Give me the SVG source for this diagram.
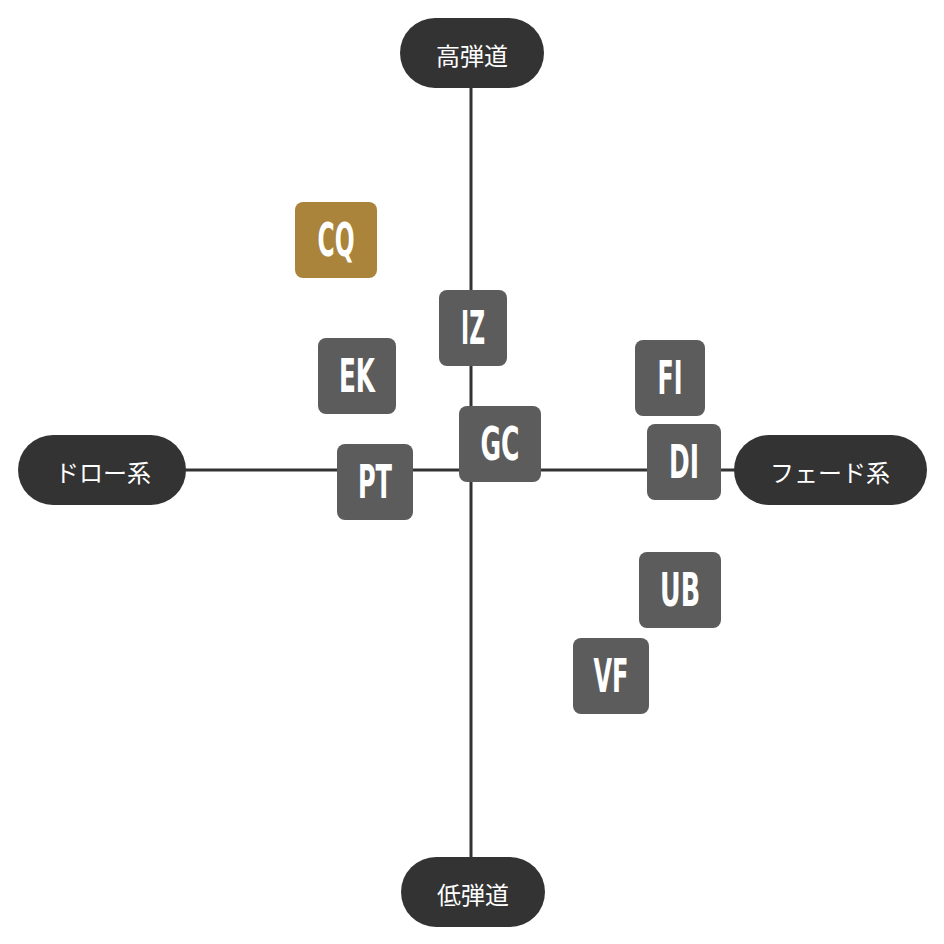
<svg xmlns="http://www.w3.org/2000/svg" width="944" height="944" viewBox="0 0 944 944">
<style>
.axis{stroke:#333333;stroke-width:3;fill:none}
.pill{fill:#333333}
.pl{fill:#ffffff;font-family:"Noto Sans CJK JP","Noto Sans",sans-serif;font-size:24px;text-anchor:middle;dominant-baseline:central}
.box{fill:#5c5c5c}
.gold{fill:#a9843a}
.lb{fill:#ffffff;font-family:"Liberation Sans Narrow","DejaVu Sans Condensed","Liberation Sans",sans-serif;font-weight:bold;font-size:46px;text-anchor:middle}
</style>
<rect width="944" height="944" fill="#ffffff"/>
<g id="connectors">
<line class="axis" x1="471" y1="86" x2="471" y2="860"/>
<line class="axis" x1="184" y1="470" x2="736" y2="470"/>
</g>
<g id="high"><rect class="pill" x="400" y="18" width="144" height="70" rx="35"/><text class="pl" x="472" y="54">高弾道</text></g>
<g id="low"><rect class="pill" x="401" y="857" width="144" height="70" rx="35"/><text class="pl" x="473" y="893">低弾道</text></g>
<g id="draw"><rect class="pill" x="18" y="435" width="168" height="70" rx="35"/><text class="pl" x="103" y="471">ドロー系</text></g>
<g id="fade"><rect class="pill" x="734" y="435" width="193" height="70" rx="35"/><text class="pl" x="830" y="471">フェード系</text></g>
<g id="CQ"><rect class="gold" x="295" y="202" width="82" height="76" rx="8"/><text class="lb" x="336" y="256" textLength="37" lengthAdjust="spacingAndGlyphs">CQ</text></g>
<g id="IZ"><rect class="box" x="439" y="290" width="68" height="76" rx="8"/><text class="lb" x="473" y="344" textLength="24" lengthAdjust="spacingAndGlyphs">IZ</text></g>
<g id="EK"><rect class="box" x="318" y="338" width="78" height="76" rx="8"/><text class="lb" x="357" y="392" textLength="36" lengthAdjust="spacingAndGlyphs">EK</text></g>
<g id="FI"><rect class="box" x="635" y="340" width="70" height="76" rx="8"/><text class="lb" x="670" y="394" textLength="25" lengthAdjust="spacingAndGlyphs">FI</text></g>
<g id="GC"><rect class="box" x="459" y="406" width="82" height="76" rx="8"/><text class="lb" x="500" y="460" textLength="39" lengthAdjust="spacingAndGlyphs">GC</text></g>
<g id="DI"><rect class="box" x="647" y="424" width="74" height="76" rx="8"/><text class="lb" x="684" y="478" textLength="30" lengthAdjust="spacingAndGlyphs">DI</text></g>
<g id="PT"><rect class="box" x="337" y="444" width="76" height="76" rx="8"/><text class="lb" x="375" y="498" textLength="34" lengthAdjust="spacingAndGlyphs">PT</text></g>
<g id="UB"><rect class="box" x="639" y="552" width="82" height="76" rx="8"/><text class="lb" x="680" y="606" textLength="40" lengthAdjust="spacingAndGlyphs">UB</text></g>
<g id="VF"><rect class="box" x="573" y="638" width="76" height="76" rx="8"/><text class="lb" x="611" y="692" textLength="35" lengthAdjust="spacingAndGlyphs">VF</text></g>
</svg>
